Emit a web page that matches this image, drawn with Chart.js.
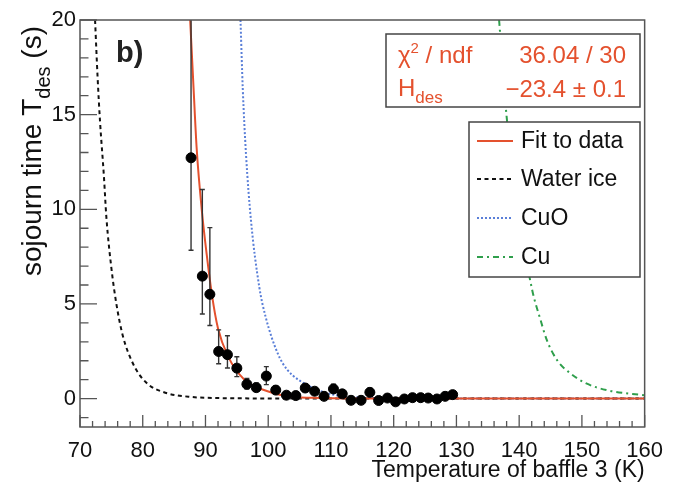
<!DOCTYPE html>
<html><head><meta charset="utf-8">
<script src="https://cdn.jsdelivr.net/npm/chart.js@4.4.1/dist/chart.umd.min.js"></script>
<style>html,body{margin:0;padding:0;background:#fff;}#wrap{width:674px;height:490px;}</style>
</head><body><div id="wrap"><canvas id="c" width="674" height="490"></canvas></div>
<script>
// ---- measured data ----
const temps   = [87.7, 89.5, 90.7, 92.1, 93.5, 95.0, 96.6, 98.1, 99.7, 101.2, 102.9, 104.4, 105.9, 107.4, 108.9, 110.4, 111.8, 113.2, 114.8, 116.2, 117.6, 119.0, 120.3, 121.7, 123.0, 124.3, 125.5, 126.9, 128.2, 129.4];
const sojourn = [12.72, 6.47, 5.51, 2.49, 2.32, 1.61, 0.76, 0.58, 1.19, 0.45, 0.18, 0.16, 0.56, 0.39, 0.12, 0.51, 0.25, -0.09, -0.09, 0.33, -0.10, 0.03, -0.17, -0.02, 0.05, 0.05, 0.03, -0.02, 0.12, 0.21];
const errDown = [4.88, 2.0, 1.65, 0.65, 0.7, 0.45, 0.25, 0.2, 0.45, 0.2, 0.15, 0.15, 0.2, 0.15, 0.12, 0.2, 0.15, 0.12, 0.12, 0.15, 0.12, 0.1, 0.12, 0.1, 0.1, 0.1, 0.1, 0.1, 0.1, 0.1];
const errUp   = [9.0, 4.58, 3.52, 1.14, 1.0, 0.6, 0.3, 0.25, 0.5, 0.2, 0.15, 0.15, 0.2, 0.15, 0.12, 0.25, 0.15, 0.12, 0.12, 0.2, 0.12, 0.1, 0.12, 0.1, 0.1, 0.1, 0.1, 0.1, 0.1, 0.1];
const tempErr = 0.7;

// curves
const fitT = [87.56, 88.1, 88.6, 89.4, 90.2, 91.0, 92.0, 93.6, 96.2, 99.9, 103.0, 107.0, 115.0, 160.0];
const fitY = [20.0, 16.4, 13.2, 10.0, 7.6, 5.55, 3.7, 2.23, 1.0, 0.39, 0.12, 0.04, 0.01, 0.0];
const iceT = [72.4, 72.8, 73.2, 73.8, 74.2, 75.0, 75.8, 76.8, 78.4, 80.5, 83.6, 87.3, 92.0, 100.0, 160.0];
const iceY = [20.0, 17.0, 14.6, 11.8, 9.6, 6.9, 5.0, 3.35, 1.88, 0.86, 0.31, 0.1, 0.03, 0.01, 0.0];
const cuoT = [95.58, 95.94, 96.46, 97.25, 98.57, 99.6, 101.5, 103.0, 106.6, 109.3, 113.0, 120.0, 160.0];
const cuoY = [20.0, 16.4, 12.9, 9.42, 5.91, 4.3, 2.4, 1.54, 0.65, 0.3, 0.08, 0.02, 0.0];
const cuT  = [136.8, 138.0, 140.0, 142.1, 143.4, 144.4, 146.0, 148.1, 150.7, 153.9, 157.0, 160.0];
const cuY  = [20.0, 14.9, 9.6, 5.7, 4.16, 3.1, 2.05, 1.35, 0.8, 0.45, 0.28, 0.18];

const seriesLabels = ['Fit to data', 'Water ice', 'CuO', 'Cu'];
const xTickStep = 10, xMinorStep = 2, yTickStep = 5, yMinorStep = 1;
const xMin = 70, xMax = 160, yMin = -1.5, yMax = 20;
const statNames = ['χ', 'H'];
const statValues = ['36.04 / 30', '\u221223.4 \u00b1 0.1'];
const panelLabel = 'b)';
const xTitle = 'Temperature of baffle 3 (K)';

const RED = '#e4512e', BLUE = '#5a7fd8', GREEN = '#2f9f4c', BLACK = '#111';
const FONT = '"Liberation Sans", Arial, sans-serif';

const xy = (xs, ys) => xs.map((x, i) => ({x, y: ys[i]}));

function richWidth(ctx, parts) {
  let w = 0;
  for (const p of parts) { ctx.font = p.font; w += ctx.measureText(p.text).width; }
  return w;
}
function drawRich(ctx, parts, x, y) {
  let cx = x;
  for (const p of parts) {
    ctx.font = p.font;
    ctx.fillText(p.text, cx, y + (p.dy || 0));
    cx += ctx.measureText(p.text).width;
  }
}

const rootPlugin = {
  id: 'rootStyle',
  beforeDatasetDraw(chart, args) {
    if (args.index !== 0) return;
    const {ctx, chartArea: a, scales: {x, y}} = chart;
    ctx.save();
    ctx.beginPath(); ctx.rect(a.left, a.top, a.right - a.left, a.bottom - a.top); ctx.clip();
    ctx.strokeStyle = '#333'; ctx.lineWidth = 1.4;
    temps.forEach((t, i) => {
      const px = x.getPixelForValue(t);
      const py0 = y.getPixelForValue(sojourn[i] - errDown[i]);
      const py1 = y.getPixelForValue(sojourn[i] + errUp[i]);
      ctx.beginPath();
      ctx.moveTo(px, py0); ctx.lineTo(px, py1);
      ctx.moveTo(px - 2.5, py0); ctx.lineTo(px + 2.5, py0);
      ctx.moveTo(px - 2.5, py1); ctx.lineTo(px + 2.5, py1);
      const py = y.getPixelForValue(sojourn[i]);
      ctx.moveTo(x.getPixelForValue(t - tempErr), py); ctx.lineTo(x.getPixelForValue(t + tempErr), py);
      ctx.stroke();
    });
    ctx.restore();
  },
  afterDraw(chart) {
    const {ctx, chartArea: a, scales: {x, y}} = chart;
    ctx.save();
    // axis ticks (inside, ROOT style)
    ctx.strokeStyle = '#555'; ctx.lineWidth = 1.3;
    ctx.beginPath();
    const nx = Math.round((xMax - xMin) / xMinorStep);
    for (let k = 0; k <= nx; k++) {
      const v = xMin + k * xMinorStep;
      const px = x.getPixelForValue(v);
      const major = Math.abs(v / xTickStep - Math.round(v / xTickStep)) < 1e-6;
      const len = major ? 12 : 6;
      ctx.moveTo(px, a.bottom); ctx.lineTo(px, a.bottom - len);
    }
    const y0 = Math.ceil(yMin / yMinorStep) * yMinorStep;
    const ny = Math.round((yMax - y0) / yMinorStep);
    for (let k = 0; k <= ny; k++) {
      const v = y0 + k * yMinorStep;
      const py = y.getPixelForValue(v);
      const major = Math.abs(v / yTickStep - Math.round(v / yTickStep)) < 1e-6;
      const len = major ? 17 : 8.5;
      ctx.moveTo(a.left, py); ctx.lineTo(a.left + len, py);
    }
    ctx.stroke();
    // frame
    ctx.strokeStyle = '#555'; ctx.lineWidth = 1.5;
    ctx.strokeRect(a.left, a.top, a.right - a.left, a.bottom - a.top);

    // panel label
    ctx.fillStyle = '#222'; ctx.font = 'bold 29px ' + FONT; ctx.textAlign = 'left'; ctx.textBaseline = 'alphabetic';
    ctx.fillText(panelLabel, 116, 62);

    // stat box
    const sbL = 386, sbR = 640, sbT = 34, sbB = 107;
    ctx.fillStyle = '#fff'; ctx.fillRect(sbL, sbT, sbR - sbL, sbB - sbT);
    ctx.strokeStyle = '#444'; ctx.lineWidth = 1.5; ctx.strokeRect(sbL, sbT, sbR - sbL, sbB - sbT);
    ctx.fillStyle = RED;
    const f24 = '24px ' + FONT, f15 = '15px ' + FONT;
    drawRich(ctx, [{text: statNames[0], font: f24}, {text: '2', font: f15, dy: -10}, {text: ' / ndf', font: f24}], 398, 63);
    drawRich(ctx, [{text: statNames[1], font: f24}, {text: 'des', font: '17px ' + FONT, dy: 7}], 398, 96);
    ctx.font = f24; ctx.textAlign = 'right';
    ctx.fillText(statValues[0], 626, 63);
    ctx.fillText(statValues[1], 626, 97);

    // x-axis title (right aligned to frame)
    ctx.fillStyle = BLACK; ctx.font = '23px ' + FONT;
    ctx.fillText(xTitle, a.right, 477);
    ctx.textAlign = 'left';

    // legend
    const lgL = 469, lgR = 640, lgT = 122, lgB = 277;
    ctx.fillStyle = '#fff'; ctx.fillRect(lgL, lgT, lgR - lgL, lgB - lgT);
    ctx.strokeStyle = '#444'; ctx.lineWidth = 1.5; ctx.strokeRect(lgL, lgT, lgR - lgL, lgB - lgT);
    const rowY = [141, 179, 218, 257];
    for (let i = 0; i < 4; i++) {
      const ds = chart.data.datasets[i + 1];
      ctx.save();
      ctx.strokeStyle = ds.borderColor; ctx.lineWidth = ds.borderWidth;
      ctx.setLineDash(ds.borderDash || []);
      ctx.beginPath(); ctx.moveTo(477, rowY[i]); ctx.lineTo(513, rowY[i]); ctx.stroke();
      ctx.restore();
      ctx.fillStyle = BLACK; ctx.font = '23px ' + FONT; ctx.textBaseline = 'middle';
      ctx.fillText(ds.label, 521, rowY[i] + 1);
    }
    ctx.textBaseline = 'alphabetic';

    // y-axis title with subscript
    const fMain = '28px ' + FONT, fsub = '20px ' + FONT;
    const parts = [{text: 'sojourn time T', font: fMain}, {text: 'des', font: fsub, dy: 9}, {text: ' (s)', font: fMain}];
    const W = richWidth(ctx, parts);
    ctx.translate(41, 26 + W);
    ctx.rotate(-Math.PI / 2);
    ctx.fillStyle = BLACK;
    drawRich(ctx, parts, 0, 0);
    ctx.restore();
  }
};

new Chart(document.getElementById('c'), {
  type: 'scatter',
  data: {
    datasets: [
      {label: 'data', data: xy(temps, sojourn), pointRadius: 5, pointBackgroundColor: '#000', pointBorderColor: '#000', showLine: false},
      {label: seriesLabels[0], data: xy(fitT, fitY), showLine: true, borderColor: RED, borderWidth: 2, pointRadius: 0, cubicInterpolationMode: 'monotone'},
      {label: seriesLabels[1], data: xy(iceT, iceY), showLine: true, borderColor: BLACK, borderWidth: 2, borderDash: [4, 3.5], pointRadius: 0, cubicInterpolationMode: 'monotone'},
      {label: seriesLabels[2], data: xy(cuoT, cuoY), showLine: true, borderColor: BLUE, borderWidth: 2, borderDash: [2, 2], pointRadius: 0, cubicInterpolationMode: 'monotone'},
      {label: seriesLabels[3], data: xy(cuT, cuY), showLine: true, borderColor: GREEN, borderWidth: 2, borderDash: [6, 4, 2, 4], pointRadius: 0, cubicInterpolationMode: 'monotone'}
    ]
  },
  options: {
    responsive: false, animation: false,
    layout: {padding: {left: 0, top: 20, right: 22, bottom: 0}},
    plugins: {legend: {display: false}, tooltip: {enabled: false}},
    scales: {
      x: {
        type: 'linear', min: xMin, max: xMax,
        ticks: {stepSize: xTickStep, color: BLACK, font: {family: FONT, size: 22}, padding: 11, maxRotation: 0, includeBounds: false},
        grid: {display: false, drawTicks: false}, border: {display: false},
        title: {display: false},
        afterFit(s) { s.height = 63; }
      },
      y: {
        type: 'linear', min: yMin, max: yMax,
        ticks: {stepSize: yTickStep, color: BLACK, font: {family: FONT, size: 22}, padding: 4, includeBounds: false},
        grid: {display: false, drawTicks: false}, border: {display: false},
        afterFit(s) { s.width = 80; }
      }
    }
  },
  plugins: [rootPlugin]
});
</script></body></html>
